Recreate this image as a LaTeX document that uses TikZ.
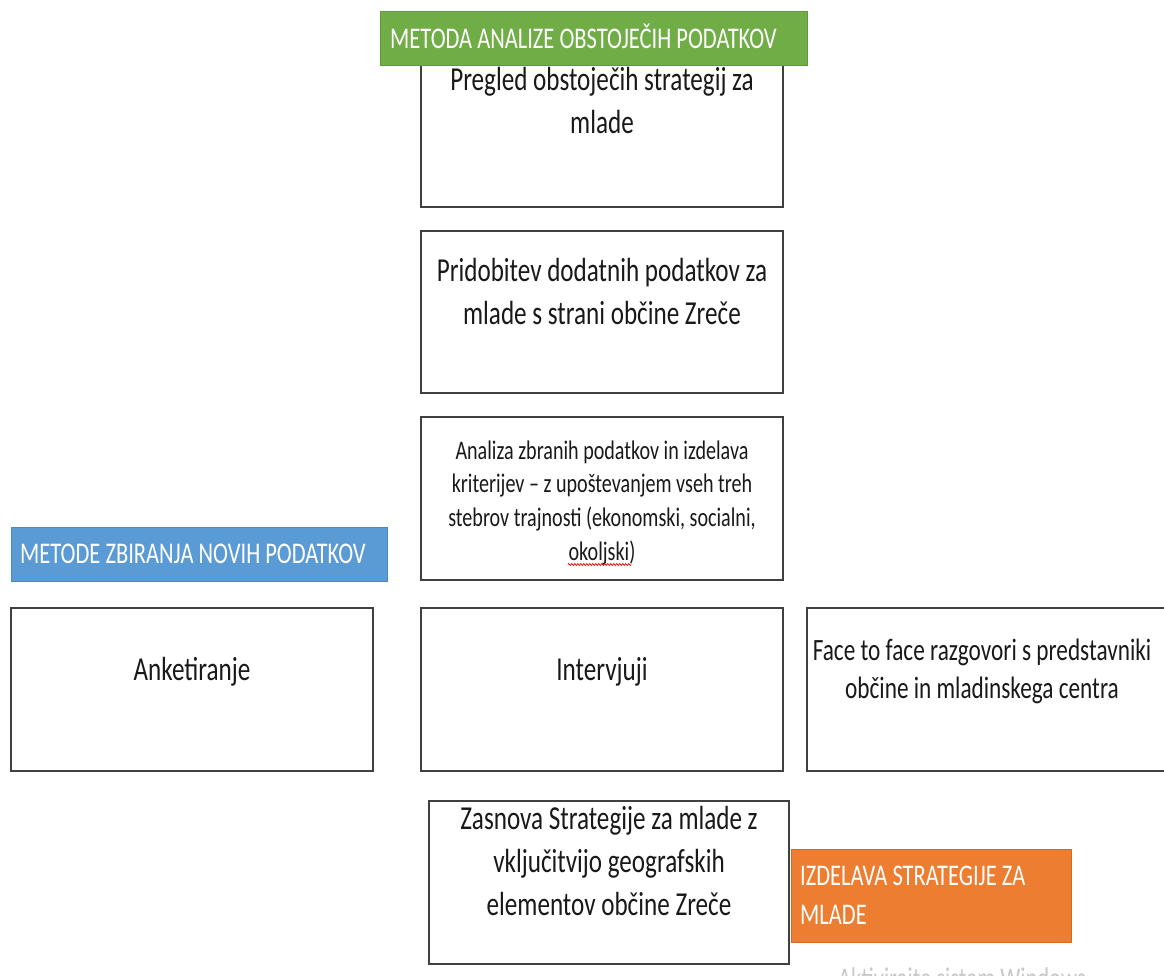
\documentclass[tikz,border=0pt]{standalone}
\usepackage{fontspec}
\setmainfont[FakeStretch=0.75]{Carlito}
\usetikzlibrary{decorations.pathmorphing}
\definecolor{lgreen}{HTML}{70AD47}
\definecolor{lgreenb}{HTML}{5E9A3A}
\definecolor{lblue}{HTML}{5B9BD5}
\definecolor{lblueb}{HTML}{4A8AC4}
\definecolor{lorange}{HTML}{ED7D31}
\definecolor{lorangeb}{HTML}{D06A25}
\definecolor{wmark}{HTML}{C8C8C8}
\begin{document}
\begin{tikzpicture}[x=1pt,y=-1pt,
  box/.style={draw=black!75, line width=1.3pt, fill=white, inner sep=0pt},
  lblbox/.style={line width=0.8pt, inner sep=0pt},
  txt/.style={align=center, inner sep=0pt, text=black!90, font=\fontsize{33.5}{43}\selectfont},
  smalltxt/.style={align=center, inner sep=0pt, text=black!90, font=\fontsize{26.8}{33.6}\selectfont},
  lbltxt/.style={align=left, inner sep=0pt, text=white, font=\fontsize{30}{39}\selectfont}]
\useasboundingbox (0,0) rectangle (1164,976);
\clip (0,0) rectangle (1164,976);
\fill[white] (0,0) rectangle (1164,976);

% boxes
\node[box, minimum width=362pt, minimum height=147pt] (b1) at (602,133.5) {};
\node[box, minimum width=362pt, minimum height=162pt] (b2) at (602,312) {};
\node[box, minimum width=362pt, minimum height=163pt] (b3) at (602,498.5) {};
\node[box, minimum width=362pt, minimum height=163pt] (b4) at (192,689.5) {};
\node[box, minimum width=362pt, minimum height=163pt] (b5) at (602,689.5) {};
\node[box, minimum width=363pt, minimum height=163pt] (b6) at (988.5,689.5) {};
\node[box, minimum width=360pt, minimum height=163pt] (b7) at (609,882.5) {};

% labels
\node[lblbox, draw=lgreenb, fill=lgreen, minimum width=427pt, minimum height=54pt] (lg) at (593.5,38) {};
\node[lblbox, draw=lblueb, fill=lblue, minimum width=376pt, minimum height=54pt] (lb) at (199,554) {};
\node[lblbox, draw=lorangeb, fill=lorange, minimum width=280pt, minimum height=93pt] (lo) at (931,895.5) {};

% texts
\node[txt, anchor=base] (t1) at (602,134) {Pregled obstoječih strategij za\\mlade};
\node[txt, anchor=base] (t2) at (602,324) {Pridobitev dodatnih podatkov za\\mlade s strani občine Zreče};
\node[smalltxt, anchor=base] (t3) at (602,560) {Analiza zbranih podatkov in izdelava\\kriterijev – z upoštevanjem vseh treh\\stebrov trajnosti (ekonomski, socialni,\\okoljski)};
\node[txt, anchor=base] (t4) at (192,680) {Anketiranje};
\node[txt, anchor=base] (t5) at (602,680) {Intervjuji};
\node[txt, anchor=base, font=\fontsize{31}{38.5}\selectfont] (t6) at (982,698.5) {Face to face razgovori s predstavniki\\občine in mladinskega centra};
\node[txt, anchor=base] (t7) at (609,915) {Zasnova Strategije za mlade z\\vključitvijo geografskih\\elementov občine Zreče};

\node[lbltxt, anchor=base west] (lgt) at (390,48.3) {METODA ANALIZE OBSTOJEČIH PODATKOV};
\node[lbltxt, anchor=base west] (lbt) at (20,563.3) {METODE ZBIRANJA NOVIH PODATKOV};
\node[lbltxt, anchor=base west] (lot) at (800,924) {IZDELAVA STRATEGIJE ZA\\MLADE};

% spell-check squiggle
\coordinate (sq1) at (568,564.5);
\coordinate (sq2) at (631,564.5);
\draw[red!85!black, line width=0.7pt, decorate, decoration={zigzag, segment length=3pt, amplitude=1pt}] (sq1) -- (sq2);

% watermark (cut off at the bottom edge, as in the reference)
\node[inner sep=0pt, anchor=base west, text=wmark, font=\fontsize{30}{34}\selectfont] (wm) at (838,988) {Aktivirajte sistem Windows};
\end{tikzpicture}
\end{document}
